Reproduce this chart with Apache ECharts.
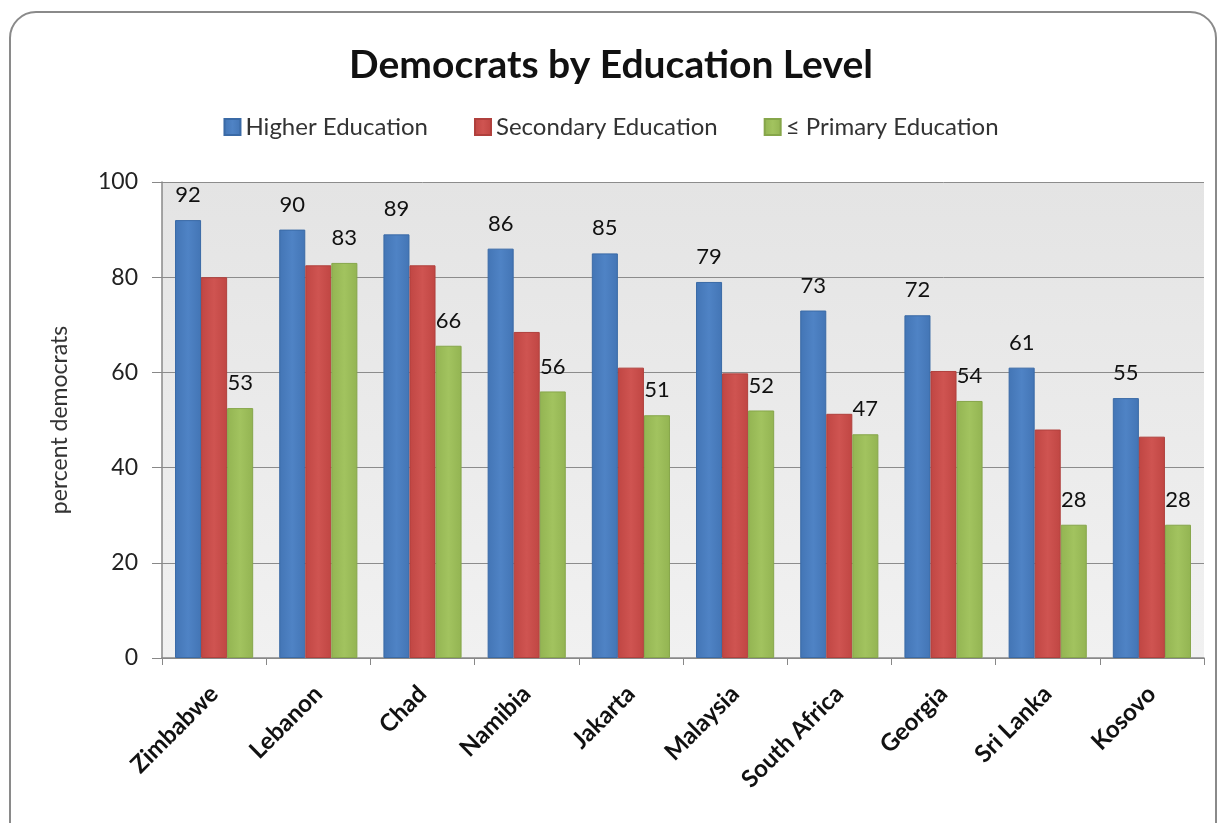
<!DOCTYPE html>
<html>
<head>
<meta charset="utf-8">
<script src="https://cdn.jsdelivr.net/npm/echarts@6/dist/echarts.min.js"></script>
<style>html,body{margin:0;padding:0;background:#fff}#c{width:1222px;height:823px}</style>
</head>
<body>
<div id="c"></div>
<script>
const categories = ['Zimbabwe','Lebanon','Chad','Namibia','Jakarta','Malaysia','South Africa','Georgia','Sri Lanka','Kosovo'];
const higherEd = [92, 90, 89, 86, 85, 79, 73, 72, 61, 54.6];
const secondaryEd = [80, 82.5, 82.5, 68.5, 61, 59.8, 51.3, 60.3, 48, 46.5];
const primaryEd = [52.5, 83, 65.6, 56, 51, 52, 47, 54, 28, 28];
const seriesNames = ['Higher Education','Secondary Education','≤ Primary Education'];
const yTicks = [0, 20, 40, 60, 80, 100];

const FONT = 'Lato, "Open Sans", sans-serif';
function grad(c1, c2) {
  return new echarts.graphic.LinearGradient(0, 0, 1, 0, [{offset:0,color:c1},{offset:0.5,color:c2},{offset:1,color:c1}]);
}
const labelStyle = {show:true, position:'top', distance:14, fontFamily:FONT, fontSize:22, color:'#111',
  formatter: p => Math.round(p.value)};

const chart = echarts.init(document.getElementById('c'), null, {renderer:'canvas'});
chart.setOption({
  backgroundColor:'#fff',
  animation:false,
  graphic:[{type:'rect', z:-10, shape:{x:10, y:12, width:1206, height:840, r:26},
    style:{fill:'#fff', stroke:'#8a8a8a', lineWidth:2}}],
  title:{text:'Democrats by Education Level', left:'center', top:41,
    textStyle:{fontFamily:FONT, fontWeight:'bold', fontSize:39, color:'#111'}},
  legend:{top:110, left:'center', itemGap:46, itemWidth:16, itemHeight:16, icon:'rect',
    textStyle:{fontFamily:FONT, fontSize:24, color:'#333'}, data:seriesNames},
  grid:{left:162, right:18, top:182, bottom:165, show:true, backgroundColor:
    new echarts.graphic.LinearGradient(0,0,0,1,[{offset:0,color:'#e4e4e4'},{offset:1,color:'#f1f1f1'}]),
    borderWidth:0},
  xAxis:{type:'category', data:categories,
    axisLine:{lineStyle:{color:'#888', width:1.5}},
    axisTick:{show:true, alignWithLabel:false, length:7, lineStyle:{color:'#888'}},
    axisLabel:{rotate:45, fontFamily:FONT, fontWeight:'bold', fontSize:24, color:'#111', margin:32, interval:0}},
  yAxis:{type:'value', min:0, max:100, interval:20,
    name:'percent democrats', nameLocation:'middle', nameGap:91,
    nameTextStyle:{fontFamily:FONT, fontSize:23, color:'#333'},
    axisLine:{show:true, lineStyle:{color:'#888', width:1.5}},
    axisTick:{show:true, length:10, lineStyle:{color:'#888'}},
    axisLabel:{fontFamily:FONT, fontSize:23, color:'#222', margin:24,
      formatter: v => yTicks.includes(v) ? String(v) : ''},
    splitLine:{show:true, lineStyle:{color:'#8c8c8c', width:1}}},
  series:[
    {name:seriesNames[0], type:'bar', data:higherEd, barGap:'0%', barCategoryGap:'25%',
      itemStyle:{color:grad('#4375b5','#4f83c5'), borderColor:'#3a6aa6', borderWidth:1},
      label:labelStyle},
    {name:seriesNames[1], type:'bar', data:secondaryEd, barGap:'0%', barCategoryGap:'25%',
      itemStyle:{color:grad('#c04643','#cf5451'), borderColor:'#b0403d', borderWidth:1},
      label:{show:false}},
    {name:seriesNames[2], type:'bar', data:primaryEd, barGap:'0%', barCategoryGap:'25%',
      itemStyle:{color:grad('#93b452','#a2c35f'), borderColor:'#86a64a', borderWidth:1},
      label:labelStyle}
  ]
});
</script>
</body>
</html>
